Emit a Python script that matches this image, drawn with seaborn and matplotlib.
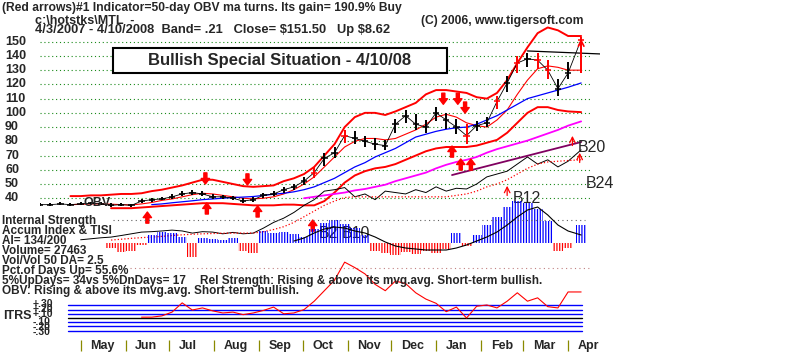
import numpy as np
import pandas as pd
import seaborn as sns
import matplotlib.pyplot as plt
import matplotlib.dates as mdates
from matplotlib.patches import Rectangle

nan = np.nan

# weekly bars from 4/3/2007, last entry is the 4/10/2008 session
weeks = list(pd.date_range('2007-04-03', periods=53, freq='7D')) + [pd.Timestamp('2008-04-10')]

close = [35.5, 35.5, 36, 35.5, 36, 36.5, 36, 35, 35.5, 35,
         38, 39, 39.5, 41, 43, 44, 43, 41, 41, 40,
         38, 39, 42, 43, 46, 48, 52, 58, 68, 72,
         84, 82, 80, 78, 77, 92, 98, 92, 90, 100,
         95, 90, 84, 91, 93, 108, 121, 135, 138, 137,
         130, 117, 128, 151.5]
high = [36.5, 36.5, 37, 36.5, 37, 37.5, 37, 36.5, 36.5, 36,
        39.5, 40.5, 41, 43, 45, 46, 45, 43, 42.5, 41.5,
        40, 41, 43.5, 45, 48, 50, 55, 62, 72, 76,
        88, 87, 84, 82, 81, 96, 102, 99, 95, 104,
        100, 96, 92, 94, 97, 112, 126, 140, 142, 142,
        137, 124, 136, 153]
low = [34.5, 34.5, 35, 34.5, 35, 35.5, 35, 34, 34.5, 34,
       36.5, 37.5, 38.5, 39.5, 41.5, 42.5, 41.5, 39.5, 39.5, 38.5,
       36.5, 37.5, 40, 41.5, 44, 46, 49, 54, 63, 68,
       79, 78, 76, 74, 74, 86, 93, 88, 86, 94,
       89, 85, 78, 87, 90, 103, 115, 128, 132, 131,
       124, 112, 124, 128]
red_weeks = [27, 30, 42, 45, 47, 49, 50, 53]

upper_band = [nan, nan, nan, 41.5, 41.5, 42, 42, 42.5, 43, 43,
              43.5, 45, 46, 47.5, 49, 51, 53, 53, 51.5, 50,
              48.5, 48, 48.5, 49, 52, 54, 57, 62, 70, 78,
              90, 97, 100, 100, 98.5, 101, 104, 107, 113, 116,
              116, 115, 114, 111, 110, 114, 123, 135, 146, 156,
              160, 158, 154, 154]
lower_band = [nan, nan, nan, nan, nan, nan, nan, 33, 33, 33,
              33.5, 34, 34.5, 35, 35.5, 36, 36.5, 36.5, 36.5, 36,
              35.5, 35, 35, 35, 35.5, 35.5, 35, 35, 38, 44,
              51, 56, 59, 61, 62, 64, 67, 70, 73, 75,
              76, 76, 76, 77, 79, 81, 86, 93, 100, 104,
              104, 102, 101, 100.5]
ma21 = [nan, nan, nan, 35.5, 35.7, 36, 36, 35.8, 35.5, 35.3,
        36, 37, 38.5, 39.5, 41, 42.5, 43.5, 43, 42, 41,
        40, 39.5, 40, 41, 43, 46, 50, 55, 62, 69,
        76, 80, 82, 82, 81, 82, 85, 88, 92, 97,
        99, 97, 93, 91, 90, 95, 102, 113, 123, 131,
        133, 132, 130, 130]
ma50 = [nan] * 11 + [35.5, 36, 36.8, 37.5, 38.2, 39, 39.5, 40, 40.5,
                     40.8, 41.2, 42, 42.8, 43.5, 44.5, 46, 48, 51, 54,
                     58, 62, 65, 69, 72, 75, 79, 83, 85, 87,
                     88.5, 89.5, 90, 92, 95, 98, 102, 106, 110, 112,
                     114, 116, 118, 121]
ma200 = [nan] * 26 + [40, 41, 42, 43,
                      44, 45.5, 46.5, 48, 49.5, 52, 54, 56, 58, 61,
                      63.5, 65.5, 67, 69, 72, 74.5, 76.5, 78.5, 80.5, 83,
                      85.5, 88, 91, 94]
obv = [nan, nan, nan, nan, 10.8, 11.5, 12.2, 12.7, 13.8, 15,
       16.2, 16.5, 17, 17.6, 17, 15.5, 16.5, 16.2, 15, 16,
       15, 15.5, 19, 23, 26, 30, 35, 39, 45, 46,
       47.5, 41, 43, 39, 45, 44, 43, 46, 44, 48,
       45, 47, 46.5, 50, 55, 57, 59, 64, 69, 64,
       67, 62, 66, 74]
obv_ma = [nan] * 7 + [10.6, 11.2, 11.8,
                      12.3, 12.7, 13.2, 13.8, 14.3, 14.7, 15, 15.2, 15.4, 15.5,
                      15.5, 15.5, 16.5, 18, 20, 23, 27, 31, 35, 38,
                      40.5, 41, 41, 41, 41, 41, 41, 41, 41, 41,
                      41, 42, 43, 45, 48, 50, 53, 57, 61, 64,
                      65.5, 66, 66.5, 67]
accum = [nan] * 7 + [-5, -9, -8,
                     -2, 8, 11, 10, 6, -14, 5, 4, 3, 5,
                     -8, -10, 12, 10, 11, 9, 6, 14, 20, 23,
                     19, 15, 8, -8, -10, -12, -9, -11, -8, -10,
                     -6, 10, -3, 8, 18, 26, 36, 42, 40, 34,
                     22, -8, -5, 18]
accum_ma = [nan] * 25 + [2, 5, 10, 14, 16,
                         15, 12, 10, 6, 1, -3, -5, -6, -7, -7,
                         -7, -5, -2, 2, 6, 11, 18, 26, 33, 36,
                         28, 18, 12, 8]
itrs = [nan] * 10 + [0.02, 0.02, 0.05, 0.14, 0.36, 0.19, 0.24, 0.17, 0.12, 0.14,
                     0.08, 0.12, 0.18, 0.26, 0.1, 0.12, 0.2, 0.4, 0.65, 0.9,
                     1.33, 1.2, 1.05, 0.8, 0.65, 0.88, 0.82, 0.6, 0.45, 0.35,
                     0.15, 0.26, 0.0, 0.28, 0.31, 0.24, 0.4, 0.6, 0.4, 0.48,
                     0.27, 0.24, 0.62, 0.62]

buy_arrows = [('2007-06-16', 30.3), ('2007-07-27', 36.7), ('2007-08-31', 34.6),
              ('2007-10-08', 24.7), ('2008-01-12', 76.7), ('2008-01-18', 67.6),
              ('2008-01-25', 67.6)]
thin_buy_arrows = [('2008-02-19', 50.7), ('2008-04-04', 85.8), ('2008-04-09', 73.9)]
sell_arrows = [('2007-07-26', 50), ('2007-08-24', 49.3), ('2008-01-06', 106),
               ('2008-01-16', 106), ('2008-01-21', 99.8)]
trend_dates = ['2008-01-12', '2008-04-10']
trend_vals = [56.3, 79.5]
resist_dates = ['2008-03-04', '2008-04-23']
resist_vals = [143.5, 141.4]
signal_labels = [('B12', '2008-02-23', 39.5), ('B20', '2008-04-08', 75.3),
                 ('B24', '2008-04-13', 50), ('B2', '2007-10-12', 14.9),
                 ('B10', '2007-10-28', 14.9)]
price_levels = [150, 140, 130, 120, 110, 100, 90, 80, 70, 60, 50, 40]
months = ['May', 'Jun', 'Jul', 'Aug', 'Sep', 'Oct', 'Nov', 'Dec', 'Jan', 'Feb', 'Mar', 'Apr']
month_starts = ['2007-05-01', '2007-06-01', '2007-07-01', '2007-08-01', '2007-09-01',
                '2007-10-01', '2007-11-01', '2007-12-01', '2008-01-01', '2008-02-01',
                '2008-03-01', '2008-04-01']

sns.set_style('white')
plt.rcParams['font.family'] = ['Liberation Sans', 'DejaVu Sans']
plt.rcParams['hatch.linewidth'] = 0.9

W, H = 800, 354
fig = plt.figure(figsize=(W / 100, H / 100), dpi=100)


def px_axes(left, top, right, bottom):
    ax = fig.add_axes([left / W, 1 - bottom / H, (right - left) / W, (bottom - top) / H])
    ax.set_facecolor('none')
    ax.set_axis_off()
    return ax


def ftext(x, y, s, **kw):
    kw.setdefault('fontsize', 8.5)
    kw.setdefault('fontweight', 'bold')
    fig.text(x / W, 1 - y / H, s, va='center', ha='left', **kw)


def num(d):
    return mdates.date2num(pd.Timestamp(d))


x = mdates.date2num(weeks)
xlim = (num('2007-04-03'), num('2008-04-23'))

# ---- price panel ----
ppx = 1.423  # pixels per dollar
ax = px_axes(40, 20, 600, 245)
ax.set_xlim(xlim)
ax.set_ylim(150 - (245 - 41.7) / ppx, 150 + (41.7 - 20) / ppx)
for lv in price_levels:
    ax.axhline(lv, xmin=0, xmax=0.985, color='#1a8a1a', lw=0.8, ls=(0, (1, 2.5)), zorder=0)
    ax.text(-0.0625, lv, str(lv), transform=ax.get_yaxis_transform(),
            ha='left', va='center', fontsize=9, fontweight='bold')

sns.lineplot(x=x, y=upper_band, ax=ax, color='red', linewidth=1.4, legend=False)
sns.lineplot(x=x, y=lower_band, ax=ax, color='red', linewidth=1.4, legend=False)
sns.lineplot(x=x, y=ma21, ax=ax, color='red', linewidth=0.8, legend=False)
sns.lineplot(x=x, y=ma50, ax=ax, color='blue', linewidth=0.9, legend=False)
sns.lineplot(x=x, y=ma200, ax=ax, color='#ff00ff', linewidth=1.3, legend=False)
sns.lineplot(x=x, y=obv, ax=ax, color='black', linewidth=0.7, legend=False)
sns.lineplot(x=x, y=obv_ma, ax=ax, color='red', linewidth=0.9, linestyle=':', legend=False)
sns.lineplot(x=[num(d) for d in trend_dates], y=trend_vals, ax=ax,
             color='#800060', linewidth=1.3, legend=False)
sns.lineplot(x=[num(d) for d in resist_dates], y=resist_vals, ax=ax,
             color='black', linewidth=0.9, legend=False)

# price bars: close path plus high-low bars with close ticks
sns.lineplot(x=x, y=close, ax=ax, color='black', linewidth=0.6, legend=False)
bar_colors = ['red' if i in red_weeks else 'black' for i in range(len(x))]
ax.vlines(x, low, high, colors=bar_colors, lw=1.4, zorder=4)
ax.hlines(close, x, x + 2.2, colors=bar_colors, lw=1.1, zorder=4)
ax.hlines(close, x - 2.2, x, colors=bar_colors, lw=1.1, zorder=4)

for d, p in buy_arrows:
    ax.annotate('', xy=(num(d), p), xytext=(0, -8), textcoords='offset points',
                arrowprops=dict(facecolor='red', edgecolor='red', width=2.2,
                                headwidth=6, headlength=4, shrink=0))
for d, p in sell_arrows:
    ax.annotate('', xy=(num(d), p), xytext=(0, 8), textcoords='offset points',
                arrowprops=dict(facecolor='red', edgecolor='red', width=2.2,
                                headwidth=6, headlength=4, shrink=0))
for d, p in thin_buy_arrows:
    ax.annotate('', xy=(num(d), p), xytext=(0, -11), textcoords='offset points',
                arrowprops=dict(arrowstyle='->', color='red', lw=0.9))
ax.annotate('', xy=(x[-1], high[-1] + 1), xytext=(x[-1], close[-1] - 10),
            arrowprops=dict(arrowstyle='->', color='red', lw=1.2))
for s, d, p in signal_labels:
    ax.text(num(d), p, s, ha='left', va='center', fontsize=11.5)

# ---- accumulation index panel ----
ax_ai = px_axes(40, 195, 600, 270)
ax_ai.set_xlim(xlim)
ax_ai.set_ylim(-27, 48)
ax_ai.axhline(23, xmin=0.13, xmax=0.973, color='#606060', lw=0.8, ls=(0, (1, 3)))
ax_ai.axhline(-25, xmin=0.16, xmax=0.98, color='#c08080', lw=0.8, ls=(0, (1, 3)))
acc = np.array(accum, dtype=float)
pos = np.where(acc > 0, acc, 0)
neg = np.where(acc < 0, acc, 0)
ax_ai.bar(x, pos, width=7, facecolor='none', edgecolor='blue', hatch='||||||', linewidth=0)
ax_ai.bar(x, neg, width=7, facecolor='none', edgecolor='red', hatch='||||||', linewidth=0)
sns.lineplot(x=x, y=accum_ma, ax=ax_ai, color='black', linewidth=0.8, legend=False)

# ---- ITRS panel ----
ax_it = px_axes(40, 255, 600, 354)
ax_it.set_xlim(xlim)
ax_it.set_ylim(-36 / 42, 63 / 42)
for lv in [0.3, 0.2, 0.1, -0.1, -0.2, -0.3]:
    ax_it.axhline(lv, xmin=0.05, xmax=0.968, color='blue', lw=1.0)
ax_it.axhline(0, xmin=0.05, xmax=0.968, color='black', lw=1.0)
sns.lineplot(x=x, y=itrs, ax=ax_it, color='red', linewidth=0.8, legend=False)
for m, d in zip(months, month_starts):
    ax_it.vlines(num(d), -0.786, -0.524, color='#8a8a00', lw=0.9)
    ax_it.annotate(m, xy=(num(d), -0.667), xytext=(7, 0), textcoords='offset points',
                   ha='left', va='center', fontsize=9, fontweight='bold')

# ---- text ----
ftext(2, 8, '(Red arrows)#1 Indicator=50-day OBV ma turns. Its gain= 190.9% Buy', fontsize=8.7)
ftext(35, 21, 'c:\\hotstks\\MTL  -', fontsize=9)
ftext(35, 30, '4/3/2007 - 4/10/2008  Band= .21   Close= \\$151.50   Up \\$8.62', fontsize=9.3)
ftext(421, 21, '(C) 2006, www.tigersoft.com', fontsize=8.7)
ftext(83, 203, 'OBV', fontsize=9)

box = Rectangle((113 / W, 1 - 73 / H), 334 / W, 25 / H, transform=fig.transFigure,
                facecolor='white', edgecolor='black', lw=1.5, zorder=5)
fig.add_artist(box)
fig.text(280 / W, 1 - 61 / H, 'Bullish Special Situation - 4/10/08', ha='center', va='center',
         fontsize=12, fontweight='bold', zorder=6)

ftext(2, 221, 'Internal Strength')
ftext(2, 231, 'Accum Index & TISI')
ftext(2, 241, 'AI= 134/200')
ftext(2, 251, 'Volume= 27463')
ftext(2, 261, 'Vol/Vol 50 DA= 2.5')
ftext(2, 271, 'Pct.of Days Up= 55.6%')
ftext(2, 281, '5%UpDays= 34vs 5%DnDays= 17')
ftext(200, 281, 'Rel Strength: Rising & above its mvg.avg. Short-term bullish.')
ftext(2, 291, 'OBV: Rising & above its mvg.avg. Short-term bullish.')
ftext(3, 316, 'ITRS', fontsize=9)
for lab, yy in zip(['+.30', '+.20', '+.10', '-.10', '-.20', '-.30'], [304, 309, 314, 322, 327, 332]):
    ftext(33, yy, lab, fontsize=7.5)
ftext(2, 360, 'Closing Power: Above its mvg.avg.   Short-term bullish.  Generally OK to buy.')

fig.savefig('out.png', dpi=100)
